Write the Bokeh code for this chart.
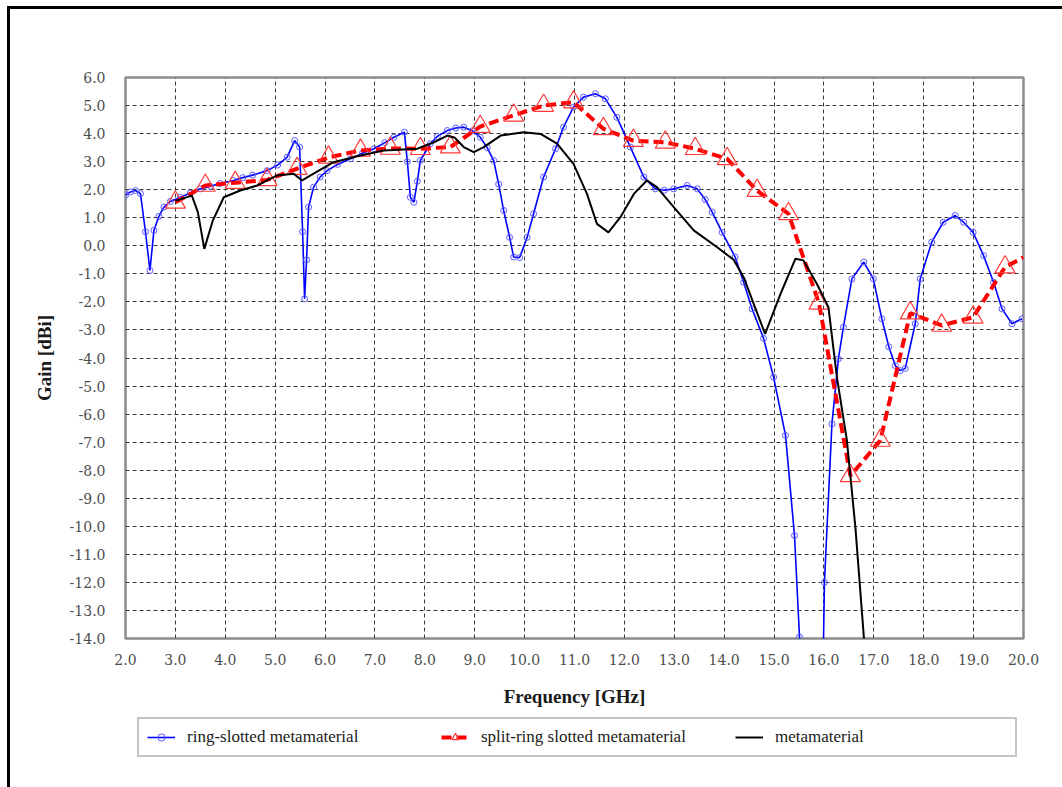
from bokeh.plotting import figure
from bokeh.layouts import column
from bokeh.models import (Range1d, FixedTicker, PrintfTickFormatter, Legend,
                          LegendItem)
from bokeh.embed import file_html
from bokeh.resources import INLINE

# Gain [dBi] versus frequency [GHz] for three antenna variants
ring_x = [2.0, 2.1, 2.2, 2.3, 2.4, 2.49, 2.57, 2.67, 2.77, 2.9, 3.1, 3.3, 3.5,
          3.7, 3.9, 4.16, 4.35, 4.55, 4.84, 5.05, 5.24, 5.39, 5.49, 5.55, 5.59,
          5.63, 5.67, 5.77, 5.9, 6.04, 6.25, 6.51, 6.75, 6.98, 7.2, 7.38, 7.59,
          7.65, 7.71, 7.78, 7.85, 7.91, 8.11, 8.25, 8.45, 8.62, 8.78, 8.95,
          9.11, 9.25, 9.38, 9.48, 9.58, 9.7, 9.78, 9.9, 10.05, 10.18, 10.38,
          10.62, 10.78, 10.98, 11.18, 11.42, 11.62, 11.85, 12.12, 12.39, 12.62,
          12.8, 12.99, 13.26, 13.46, 13.62, 13.76, 13.96, 14.22, 14.39, 14.56,
          14.79, 14.99, 15.23, 15.41, 15.51, 15.6, 15.75, 15.92, 16.01, 16.16,
          16.29, 16.39, 16.56, 16.8, 16.99, 17.16, 17.3, 17.43, 17.53, 17.63,
          17.83, 17.93, 18.16, 18.39, 18.63, 18.8, 18.99, 19.2, 19.4, 19.57,
          19.77, 19.97]
ring_y = [1.8, 1.92, 1.97, 1.86, 0.5, -0.88, 0.55, 1.05, 1.38, 1.58, 1.73, 1.88,
          2.03, 2.12, 2.22, 2.33, 2.43, 2.52, 2.68, 2.88, 3.16, 3.75, 3.52, 0.5,
          -1.89, -0.5, 1.38, 2.09, 2.45, 2.68, 2.9, 3.1, 3.3, 3.46, 3.68, 3.87,
          4.05, 3.0, 1.73, 1.55, 2.3, 3.04, 3.64, 3.9, 4.11, 4.2, 4.23, 4.1,
          3.87, 3.5, 3.04, 2.2, 1.26, 0.3, -0.4, -0.42, 0.3, 1.14, 2.45, 3.46,
          4.23, 4.94, 5.3, 5.42, 5.24, 4.58, 3.52, 2.45, 2.03, 1.98, 2.03, 2.15,
          2.03, 1.65, 1.2, 0.48, -0.4, -1.3, -2.25, -3.3, -4.68, -6.76, -10.33,
          -13.95, -18.0, -30.0, -22.0, -12.0, -6.35, -4.03, -2.9, -1.18, -0.58,
          -1.18, -2.6, -3.6, -4.27, -4.45, -4.37, -2.78, -1.18, 0.13, 0.84,
          1.08, 0.84, 0.48, -0.35, -1.3, -2.25, -2.78, -2.6]

split_x = [3.0, 3.6, 4.2, 4.84, 5.44, 6.07, 6.71, 7.31, 7.91, 8.51, 9.11, 9.78,
           10.38, 10.98, 11.58, 12.18, 12.82, 13.42, 14.06, 14.66, 15.29, 15.9,
           16.53, 17.13, 17.73, 18.36, 18.99, 19.63, 20.0]
split_y = [1.55, 2.15, 2.25, 2.35, 2.75, 3.15, 3.4, 3.47, 3.46, 3.52, 4.25, 4.65,
           5.0, 5.12, 4.17, 3.75, 3.69, 3.46, 3.1, 1.97, 1.14, -2.05, -8.2,
           -6.94, -2.4, -2.84, -2.55, -0.76, -0.41]

meta_x = [3.0, 3.33, 3.45, 3.58, 3.75, 3.97, 4.3, 4.64, 5.04, 5.37, 5.54, 5.77,
          6.17, 6.71, 7.18, 7.85, 8.18, 8.45, 8.6, 8.78, 8.98, 9.18, 9.52,
          9.98, 10.32, 10.65, 10.98, 11.25, 11.45, 11.68, 11.92, 12.19, 12.45,
          12.65, 12.99, 13.39, 13.86, 14.19, 14.39, 14.82, 15.13, 15.43, 15.59,
          15.86, 16.09, 16.26, 16.46, 16.63, 16.8, 16.9]
meta_y = [1.6, 1.79, 1.2, -0.11, 0.9, 1.73, 1.97, 2.15, 2.51, 2.57, 2.33, 2.57,
          2.98, 3.22, 3.4, 3.46, 3.69, 3.93, 3.85, 3.52, 3.34, 3.52, 3.93, 4.05,
          3.99, 3.64, 2.92, 1.85, 0.78, 0.48, 1.02, 1.85, 2.33, 2.09, 1.38,
          0.55, -0.05, -0.5, -1.12, -3.14, -1.71, -0.46, -0.52, -1.36, -2.19,
          -4.68, -6.94, -10.03, -13.95, -16.0]

series_names = ["ring-slotted metamaterial", "split-ring slotted metamaterial",
                "metamaterial"]
x_ticks = list(range(2, 21))
y_ticks = list(range(-14, 7))

SERIF = "Liberation Serif"
TICK_FONT = "DejaVu Serif"

RING = dict(line_color="#0000ff", line_width=1.6)
RING_PT = dict(marker="circle", size=6, line_color="#5a5aff", fill_color=None,
               line_width=1)
SPLIT = dict(line_color="#ff0000", line_width=4, line_dash="10 5")
SPLIT_PT = dict(marker="triangle", size=20, line_color="#ff3b3b",
                fill_color=None, line_width=1.2)
META = dict(line_color="black", line_width=2)

# ---- main chart -------------------------------------------------------------
p = figure(width=1052, height=703,
           x_range=Range1d(2, 20), y_range=Range1d(-14, 6),
           output_backend="svg", toolbar_location=None,
           min_border_left=115, min_border_top=68,
           min_border_right=39, min_border_bottom=74,
           background_fill_color="white", border_fill_color="white")

p.outline_line_color = "#8c8c8c"
p.outline_line_width = 2.5

for ax in (p.xaxis[0], p.yaxis[0]):
    ax.axis_line_color = None
    ax.major_tick_in = 0
    ax.major_tick_out = 0
    ax.minor_tick_line_color = None
    ax.major_label_text_font = TICK_FONT
    ax.major_label_text_font_size = "14px"
    ax.major_label_text_color = "#4d4d4d"
    ax.formatter = PrintfTickFormatter(format="%.1f")
    ax.axis_label_text_font = SERIF
    ax.axis_label_text_font_style = "bold"
    ax.axis_label_text_font_size = "19px"
    ax.axis_label_text_color = "#1a1a1a"

p.xaxis.ticker = FixedTicker(ticks=x_ticks)
p.yaxis.ticker = FixedTicker(ticks=y_ticks)
p.xaxis.axis_label = "Frequency [GHz]"
p.yaxis.axis_label = "Gain [dBi]"
p.xaxis.major_label_standoff = 15
p.xaxis.axis_label_standoff = 18
p.yaxis.major_label_standoff = 20
p.yaxis.axis_label_standoff = 12

for g in (p.xgrid[0], p.ygrid[0]):
    g.grid_line_color = "#3a3a3a"
    g.grid_line_dash = "4 3"
    g.grid_line_width = 1

p.line(ring_x, ring_y, **RING)
p.scatter(ring_x, ring_y, **RING_PT)
p.line(split_x, split_y, **SPLIT)
p.scatter(split_x[:-1], split_y[:-1], **SPLIT_PT)
p.line(meta_x, meta_y, **META)

# ---- legend strip under the chart --------------------------------------------
leg = figure(width=1052, height=75, x_range=Range1d(0, 1), y_range=Range1d(0, 1),
             output_backend="svg", toolbar_location=None,
             min_border=0, background_fill_color="white",
             border_fill_color="white", outline_line_color=None)
leg.axis.visible = False
leg.grid.visible = False

# hidden copies of the series that only supply the legend glyphs
r1 = leg.line(ring_x, ring_y, visible=False, **RING)
r1p = leg.scatter(ring_x, ring_y, visible=False, **RING_PT)
r2 = leg.line(split_x, split_y, visible=False, **SPLIT)
r2p = leg.scatter(split_x[:-1], split_y[:-1], visible=False, **SPLIT_PT)
r3 = leg.line(meta_x, meta_y, visible=False, **META)

legend = Legend(items=[
    LegendItem(label=series_names[0], renderers=[r1, r1p]),
    LegendItem(label=series_names[1], renderers=[r2, r2p]),
    LegendItem(label=series_names[2], renderers=[r3]),
], orientation="horizontal", location=(12, 30),
    padding=8, spacing=22, glyph_width=28, glyph_height=18,
    label_standoff=12, label_width=232,
    label_text_font=SERIF, label_text_font_size="17px",
    label_text_color="#1a1a1a",
    border_line_color="#8c8c8c", border_line_width=2,
    background_fill_color="white", margin=0)
leg.add_layout(legend)

page = column(p, leg, spacing=0, margin=(6, 0, 0, 7),
              styles={"border-left": "3px solid black",
                      "border-top": "3px solid black"})

open("out.html", "w").write(file_html(page, INLINE))
